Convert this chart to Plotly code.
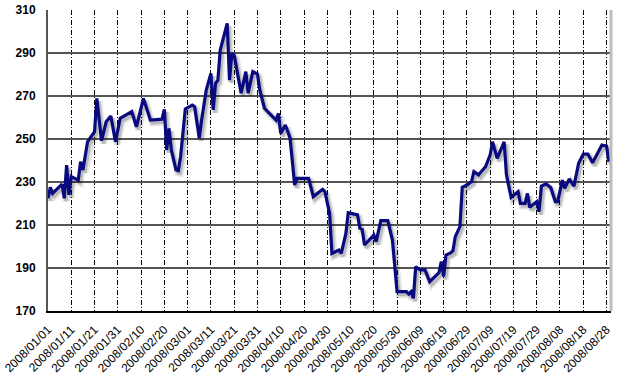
import plotly.graph_objects as go
import pandas as pd

dates = [
    "2008-01-01", "2008-01-02", "2008-01-03", "2008-01-07", "2008-01-08", "2008-01-09",
    "2008-01-10", "2008-01-11", "2008-01-14", "2008-01-15", "2008-01-16", "2008-01-18",
    "2008-01-19", "2008-01-21", "2008-01-22", "2008-01-24", "2008-01-26", "2008-01-28",
    "2008-01-30", "2008-02-01", "2008-02-06", "2008-02-08", "2008-02-11", "2008-02-14",
    "2008-02-19", "2008-02-20", "2008-02-21", "2008-02-22", "2008-02-23", "2008-02-25",
    "2008-02-26", "2008-02-27", "2008-02-29", "2008-03-03", "2008-03-04", "2008-03-06",
    "2008-03-07", "2008-03-09", "2008-03-11", "2008-03-12", "2008-03-13", "2008-03-14",
    "2008-03-15", "2008-03-18", "2008-03-19", "2008-03-20", "2008-03-21", "2008-03-24",
    "2008-03-26", "2008-03-27", "2008-03-29", "2008-03-31", "2008-04-01", "2008-04-03",
    "2008-04-08", "2008-04-09", "2008-04-10", "2008-04-12", "2008-04-14", "2008-04-16",
    "2008-04-17", "2008-04-22", "2008-04-24", "2008-04-28", "2008-04-29", "2008-05-01",
    "2008-05-02", "2008-05-05", "2008-05-06", "2008-05-08", "2008-05-09", "2008-05-13",
    "2008-05-14", "2008-05-15", "2008-05-16", "2008-05-20", "2008-05-21", "2008-05-23",
    "2008-05-26", "2008-05-28", "2008-05-30", "2008-06-03", "2008-06-04", "2008-06-05",
    "2008-06-06", "2008-06-07", "2008-06-09", "2008-06-11", "2008-06-13", "2008-06-17",
    "2008-06-18", "2008-06-19", "2008-06-20", "2008-06-22", "2008-06-23", "2008-06-24",
    "2008-06-26", "2008-06-27", "2008-06-29", "2008-07-01", "2008-07-02", "2008-07-04",
    "2008-07-07", "2008-07-09", "2008-07-10", "2008-07-12", "2008-07-15", "2008-07-16",
    "2008-07-18", "2008-07-21", "2008-07-22", "2008-07-24", "2008-07-25", "2008-07-26",
    "2008-07-29", "2008-07-30", "2008-07-31", "2008-08-02", "2008-08-04", "2008-08-06",
    "2008-08-07", "2008-08-09", "2008-08-10", "2008-08-12", "2008-08-14", "2008-08-16",
    "2008-08-18", "2008-08-20", "2008-08-22", "2008-08-26", "2008-08-28", "2008-08-29",
]
values = [
    222.4, 227.5, 224.7, 229.0, 222.4, 237.9,
    224.0, 232.5, 230.9, 239.4, 235.6, 248.7,
    250.3, 253.4, 268.9, 249.2, 258.0, 260.7,
    248.7, 259.6, 262.7, 255.7, 268.9, 258.8,
    259.2, 263.8, 244.9, 254.9, 244.9, 235.6,
    235.3, 242.0, 264.0, 265.8, 265.0, 250.5,
    258.8, 272.8, 280.5, 263.5, 275.9, 277.4,
    291.4, 303.8, 277.4, 289.8, 289.0, 271.3,
    281.3, 271.3, 281.3, 280.2, 272.8, 264.3,
    258.8, 261.9, 252.6, 256.5, 250.5, 228.6,
    231.7, 231.7, 223.2, 226.6, 225.5, 215.4,
    196.8, 198.4, 196.8, 206.1, 215.7, 214.7,
    208.5, 208.0, 200.7, 205.3, 202.2, 212.0,
    212.0, 203.0, 179.0, 179.0, 177.9, 179.0,
    175.9, 190.6, 189.1, 189.1, 183.6, 187.8,
    193.0, 186.0, 196.0, 197.0, 198.0, 204.6,
    209.2, 227.5, 228.6, 230.2, 234.8, 233.3,
    237.1, 242.6, 248.7, 241.0, 248.7, 233.3,
    222.9, 225.5, 220.1, 220.1, 224.7, 218.2,
    220.9, 216.2, 228.1, 229.1, 227.5, 220.9,
    220.9, 230.9, 227.1, 231.4, 228.1, 238.7,
    243.0, 243.0, 239.0, 247.2, 246.7, 239.4,
]
y_ticks = [170, 190, 210, 230, 250, 270, 290, 310]

x = pd.to_datetime(dates)
# soft drop shadow offset slightly right/down
shadow_x = x + pd.Timedelta(hours=20)
shadow_y = [v - 1.3 for v in values]

fig = go.Figure()
fig.add_trace(go.Scatter(x=shadow_x, y=shadow_y, mode="lines",
                         line=dict(color="rgba(0,0,0,0.10)", width=7),
                         hoverinfo="skip", showlegend=False))
fig.add_trace(go.Scatter(x=shadow_x, y=shadow_y, mode="lines",
                         line=dict(color="rgba(0,0,0,0.18)", width=3.5),
                         hoverinfo="skip", showlegend=False))
fig.add_trace(go.Scatter(x=x, y=values, mode="lines",
                         line=dict(color="#0a0a80", width=3.2),
                         showlegend=False))

fig.update_layout(
    width=628, height=389,
    margin=dict(l=48, r=17, t=10, b=78),
    paper_bgcolor="white", plot_bgcolor="white",
    font=dict(family="Liberation Sans, Arial, sans-serif", color="black"),
)
fig.update_xaxes(
    type="date", automargin=False,
    range=["2008-01-01", "2008-08-29 22:00"],
    tick0="2008-01-01", dtick=10 * 86400000,
    tickformat="%Y/%m/%d", tickangle=-45,
    tickfont=dict(size=12, family="Liberation Sans, Arial, sans-serif"),
    showgrid=True, gridcolor="black", gridwidth=1, griddash="5px,2px,1px,2px",
    showline=True, linecolor="black", linewidth=2,
    ticks="outside", ticklen=5, tickcolor="white", zeroline=False,
    ticklabeloverflow="allow",
)
fig.update_yaxes(
    range=[170, 310], tickvals=y_ticks, automargin=False,
    tickfont=dict(size=12, family="Liberation Sans, Arial, sans-serif", weight="bold"),
    showgrid=True, gridcolor="#555555", gridwidth=1.5,
    showline=True, linecolor="#555555", linewidth=2,
    ticks="outside", ticklen=8, tickcolor="white", zeroline=False,
    ticklabeloverflow="allow",
)
fig.add_shape(type="line", xref="paper", yref="paper", x0=1, x1=1, y0=0, y1=1,
              line=dict(color="#bdbdbd", width=3))

fig.write_html("out.html", config={"displayModeBar": False},
               post_script="document.body.style.margin='0';")
